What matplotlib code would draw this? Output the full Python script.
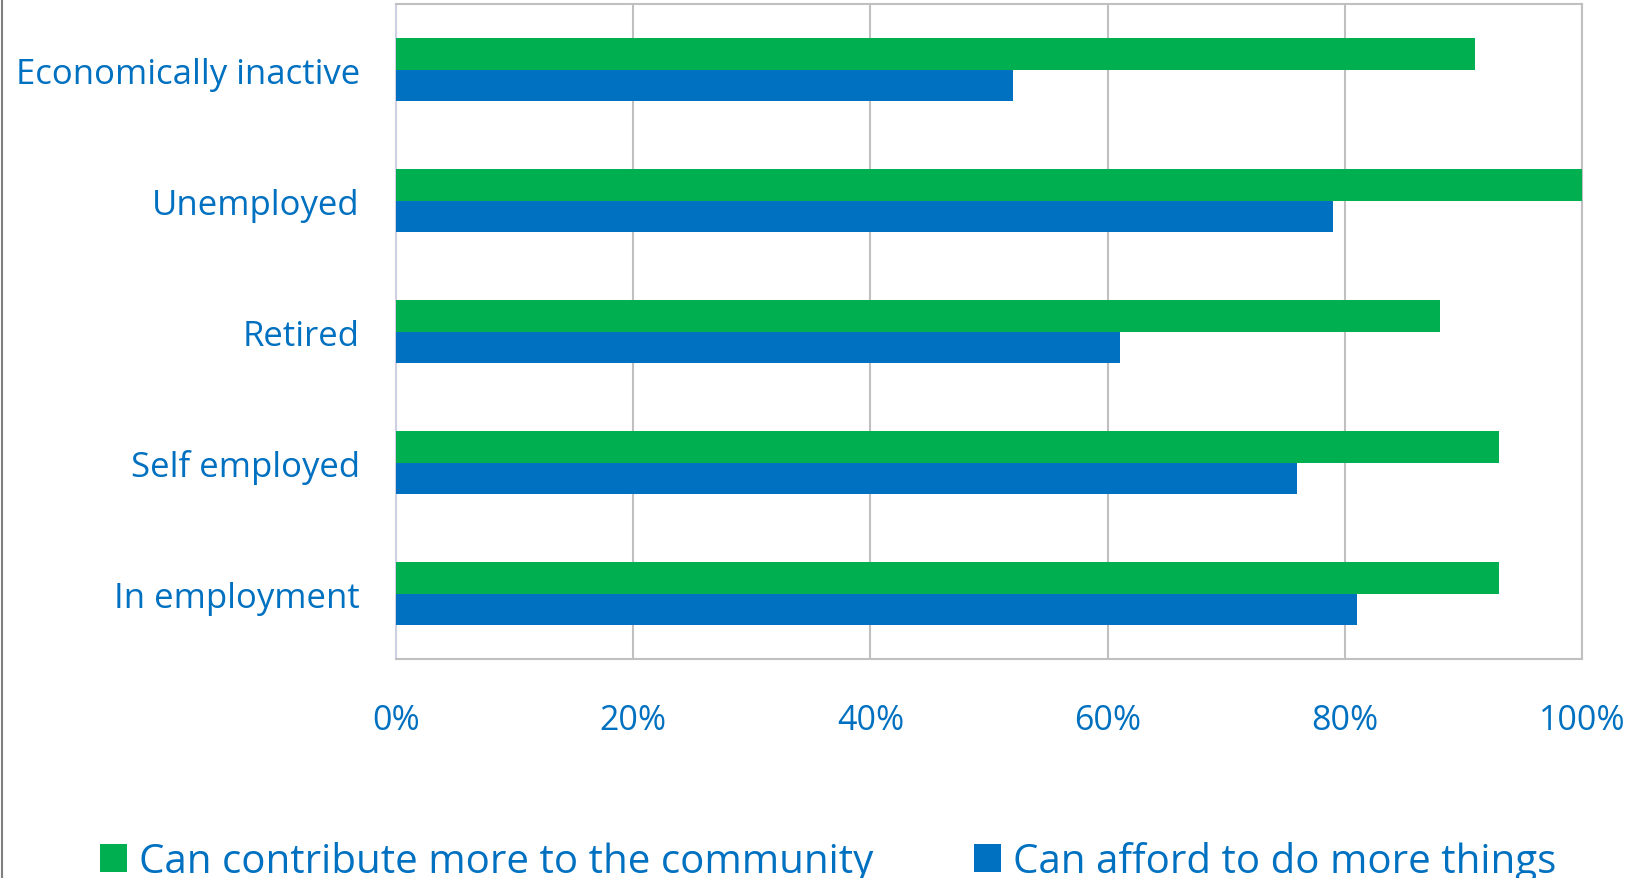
import matplotlib.pyplot as plt
import numpy as np
from matplotlib.lines import Line2D

categories = ['In employment', 'Self employed', 'Retired', 'Unemployed', 'Economically inactive']
contribute = [93, 93, 88, 100, 91]
afford = [81, 76, 61, 79, 52]
ticks = [0, 20, 40, 60, 80, 100]
tick_labels = ['0%', '20%', '40%', '60%', '80%', '100%']

green = '#00B050'
blue = '#0070C0'
txt = '#0070C0'

plt.rcParams['font.family'] = ['Open Sans', 'DejaVu Sans']

fig = plt.figure(figsize=(16.31, 8.79), dpi=100)
ax = fig.add_axes([0.2428, 0.2491, 0.7272, 0.7452])

y = np.arange(len(categories))
h = 0.242
ax.barh(y + h / 2, contribute, height=h, color=green, label='Can contribute more to the community', zorder=3)
ax.barh(y - h / 2, afford, height=h, color=blue, label='Can afford to do more things', zorder=3)

ax.set_xlim(0, 100)
ax.set_ylim(-0.5, len(categories) - 0.5)
ax.set_xticks(ticks)
ax.set_xticklabels(tick_labels)
ax.set_yticks(y)
ax.set_yticklabels(categories)
ax.tick_params(axis='x', length=0, pad=32, labelsize=24.5, labelcolor=txt)
ax.tick_params(axis='y', length=0, pad=26, labelsize=25, labelcolor=txt)
ax.grid(axis='x', color='#C0C0C0', linewidth=1.5, zorder=0)

for side in ['top', 'right', 'bottom']:
    ax.spines[side].set_color('#C0C0C0')
    ax.spines[side].set_linewidth(1.5)
ax.spines['left'].set_color('#D0D0E4')
ax.spines['left'].set_linewidth(1.5)

fig.legend(loc='center', bbox_to_anchor=(0.5077, 0.0188), ncol=2, frameon=False,
           fontsize=29, labelcolor=txt, handlelength=0.67, handleheight=0.67,
           handletextpad=0.3, columnspacing=2.5)

# thin grey frame line along the left edge
fig.add_artist(Line2D([0.0012, 0.0012], [0, 1], transform=fig.transFigure, color='#808080', linewidth=1.5))

fig.savefig('out.png', dpi=100)
